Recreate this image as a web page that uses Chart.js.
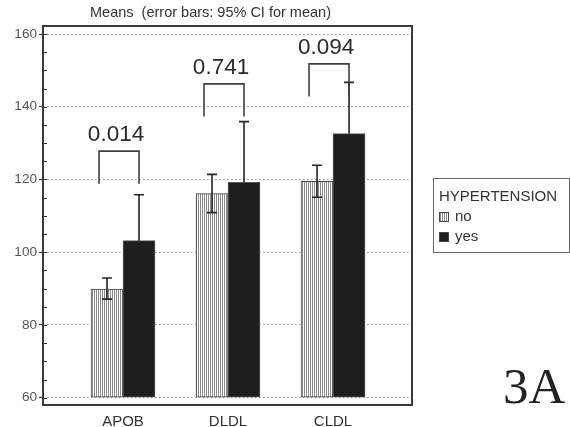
<!DOCTYPE html>
<html><head><meta charset="utf-8">
<script src="https://cdn.jsdelivr.net/npm/chart.js@4/dist/chart.umd.min.js"></script>
<style>html,body{margin:0;padding:0;background:#fff;overflow:hidden}#wrap{position:relative;width:570px;height:427px}</style>
</head><body><div id="wrap"><canvas id="c" width="570" height="427"></canvas></div>
<script>
const categories = ['APOB', 'DLDL', 'CLDL'];
const seriesNames = ['no', 'yes'];
const meansNo = [89.9, 116.1, 119.5];
const ciLowNo = [87.1, 110.9, 115.1];
const ciHighNo = [92.9, 121.4, 123.9];
const meansYes = [103.2, 119.2, 132.6];
const ciLowYes = [90.6, 102.5, 118.4];
const ciHighYes = [115.8, 135.9, 146.7];
const pValues = ['0.014', '0.741', '0.094'];
const bracketTops = [127.8, 146.3, 151.8];
const yTicks = [60, 80, 100, 120, 140, 160];
const legendTitle = 'HYPERTENSION';
const chartTitle = 'Means  (error bars: 95% CI for mean)';
const panelLabel = '3A';

const SANS = '"Liberation Sans", Arial, sans-serif';
const SERIF = '"Liberation Serif", "Times New Roman", serif';

function makeStripe() {
  const t = document.createElement('canvas');
  t.width = 2; t.height = 4;
  const g = t.getContext('2d');
  g.fillStyle = '#ffffff'; g.fillRect(0, 0, 2, 4);
  g.fillStyle = '#8a8a8a'; g.fillRect(0, 0, 1, 4);
  return document.getElementById('c').getContext('2d').createPattern(t, 'repeat');
}
const stripe = makeStripe();
const BLACK = '#1e1e1e';

function drawErrors(chart, d, lows, highs) {
  const ctx = chart.ctx, ys = chart.scales.y;
  const meta = chart.getDatasetMeta(d);
  meta.data.forEach((bar, j) => {
    const yl = ys.getPixelForValue(lows[j]), yh = ys.getPixelForValue(highs[j]);
    ctx.save();
    ctx.strokeStyle = '#262626'; ctx.lineWidth = 1.6;
    ctx.beginPath();
    ctx.moveTo(bar.x, yl); ctx.lineTo(bar.x, yh);
    ctx.moveTo(bar.x - 5, yl); ctx.lineTo(bar.x + 5, yl);
    ctx.moveTo(bar.x - 5, yh); ctx.lineTo(bar.x + 5, yh);
    ctx.stroke();
    ctx.restore();
  });
}

const extras = {
  id: 'extras',
  beforeDatasetsDraw(chart) {
    // error bars for the black series sit behind their bars
    drawErrors(chart, 1, ciLowYes, ciHighYes);
  },
  afterDatasetsDraw(chart) {
    const ctx = chart.ctx, ys = chart.scales.y;
    const metaNo = chart.getDatasetMeta(0), metaYes = chart.getDatasetMeta(1);
    drawErrors(chart, 0, ciLowNo, ciHighNo);
    categories.forEach((c, j) => {
      const xl = metaNo.data[j].x - 8, xr = metaYes.data[j].x;
      const yt = ys.getPixelForValue(bracketTops[j]);
      const yb = ys.getPixelForValue(bracketTops[j] - 9);
      ctx.save();
      ctx.strokeStyle = '#404040'; ctx.lineWidth = 1.6;
      ctx.beginPath();
      ctx.moveTo(xl, yb); ctx.lineTo(xl, yt); ctx.lineTo(xr, yt); ctx.lineTo(xr, yb);
      ctx.stroke();
      ctx.fillStyle = '#2a2a2a';
      ctx.font = '22.5px ' + SANS;
      ctx.textAlign = 'center'; ctx.textBaseline = 'alphabetic';
      ctx.fillText(pValues[j], (xl + xr) / 2 - 3, yt - 10);
      ctx.restore();
    });
  },
  afterDraw(chart) {
    const ctx = chart.ctx, ys = chart.scales.y, a = chart.chartArea;
    ctx.save();
    ctx.strokeStyle = '#333'; ctx.lineWidth = 1;
    ctx.beginPath();
    for (let v = yTicks[0]; v <= yTicks[yTicks.length - 1]; v += 5) {
      const y = Math.round(ys.getPixelForValue(v)) + 0.5;
      ctx.moveTo(a.left, y); ctx.lineTo(a.left + 4, y);
    }
    ctx.stroke();
    ctx.strokeStyle = '#3a3a3a'; ctx.lineWidth = 2;
    ctx.strokeRect(a.left, a.top, a.right - a.left, a.bottom - a.top);
    ctx.fillStyle = '#333'; ctx.font = '14.5px ' + SANS;
    ctx.textAlign = 'center'; ctx.textBaseline = 'middle';
    ctx.fillText(chartTitle, 210.5, 13);
    ctx.strokeStyle = '#666'; ctx.lineWidth = 1;
    ctx.strokeRect(433.5, 178.5, 136, 74);
    ctx.textAlign = 'left'; ctx.font = '15px ' + SANS; ctx.fillStyle = '#333';
    ctx.fillText(legendTitle, 439, 197);
    const fills = [stripe, BLACK];
    seriesNames.forEach((s, i) => {
      const y = 212 + i * 20;
      ctx.fillStyle = fills[i]; ctx.fillRect(439, y, 10, 10);
      ctx.strokeStyle = '#444'; ctx.strokeRect(439.5, y + 0.5, 9, 9);
      ctx.fillStyle = '#333';
      ctx.fillText(s, 455, y + 5);
    });
    ctx.font = '51px ' + SERIF; ctx.fillStyle = '#222';
    ctx.textBaseline = 'alphabetic';
    ctx.fillText(panelLabel, 503, 402.5);
    ctx.restore();
  }
};

new Chart(document.getElementById('c'), {
  type: 'bar',
  data: {
    datasets: [
      { label: seriesNames[0], data: meansNo.map((v, i) => ({ x: i, y: v })),
        backgroundColor: stripe, borderColor: '#444', borderWidth: 1, borderSkipped: false },
      { label: seriesNames[1], data: meansYes.map((v, i) => ({ x: i, y: v })),
        backgroundColor: BLACK, borderColor: '#555', borderWidth: 1, borderSkipped: false }
    ]
  },
  options: {
    responsive: false, animation: false, devicePixelRatio: 1,
    layout: { padding: { top: 26, right: 158, left: 0, bottom: 0 } },
    datasets: { bar: { base: 60, barThickness: 32 } },
    plugins: { legend: { display: false }, tooltip: { enabled: false }, title: { display: false } },
    scales: {
      x: {
        type: 'linear', min: -0.762, max: 2.752, offset: false,
        grid: { display: false, drawTicks: false, tickLength: 0 }, border: { display: false },
        afterBuildTicks: s => { s.ticks = categories.map((c, i) => ({ value: i })); },
        ticks: { callback: v => categories[v] ?? '', font: { family: SANS, size: 15 }, color: '#333',
                 padding: 8, maxRotation: 0, autoSkip: false },
        afterFit: s => { s.height = 22; }
      },
      y: {
        min: 58, max: 162.2,
        afterBuildTicks: s => { s.ticks = yTicks.map(v => ({ value: v })); },
        grid: { color: '#9a9a9a', lineWidth: 1, drawTicks: true, tickLength: 4, tickColor: '#333',
                tickWidth: 1.2, tickBorderDash: [] },
        border: { display: false, dash: [1.5, 2.5] },
        ticks: { font: { family: SANS, size: 13.6 }, color: '#555', padding: 2 },
        afterFit: s => { s.width = 43; }
      }
    }
  },
  plugins: [extras]
});
</script></body></html>
